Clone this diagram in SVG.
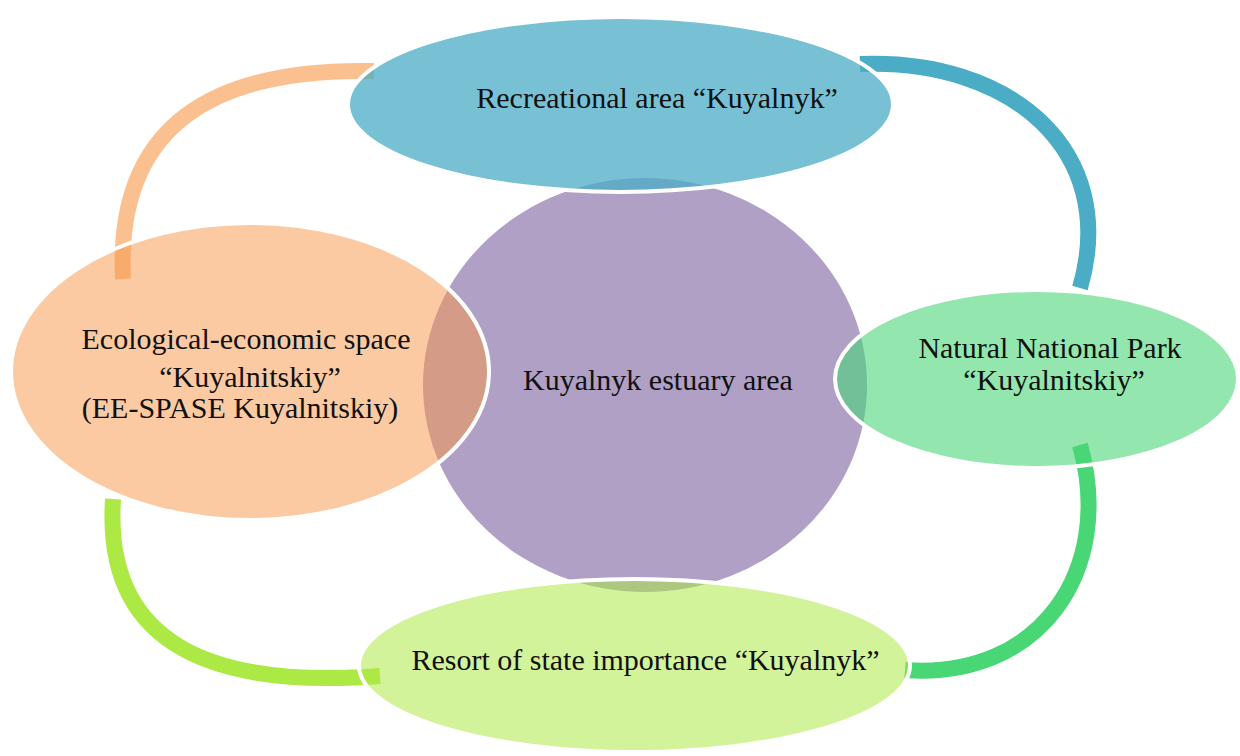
<svg xmlns="http://www.w3.org/2000/svg" width="1240" height="756" viewBox="0 0 1240 756">
<style>
.lbl{font-family:"Liberation Serif","Times New Roman",serif;font-size:30px;fill:#111;text-anchor:middle}
.node{stroke:#fff;stroke-width:4}
.arc{fill:none;stroke-width:16;stroke-linecap:butt}
</style>
<rect width="1240" height="756" fill="#fff"/>
<g id="connectors">
<path class="arc" d="M123,279 C115,120 220,68 374,71" stroke="#F79646" stroke-opacity="0.6"/>
<path class="arc" d="M860,64 C1010,58 1120,150 1080,288" stroke="#4BACC6"/>
<path class="arc" d="M1080,445 C1115,570 1040,680 905,670" stroke="#49D675"/>
<path class="arc" d="M113,499 C103,650 220,688 380,676" stroke="#ACE944"/>
</g>
<g id="center">
<ellipse cx="645" cy="385" rx="222" ry="207" fill="#B0A0C6"/>
<text class="lbl" x="658" y="390">Kuyalnyk estuary area</text>
</g>
<g id="top">
<ellipse class="node" cx="620.5" cy="104.5" rx="272.5" ry="87.5" fill="#4BACC6" fill-opacity="0.75"/>
<text class="lbl" x="657" y="108">Recreational area “Kuyalnyk”</text>
</g>
<g id="left">
<ellipse class="node" cx="250" cy="371.5" rx="239" ry="148.5" fill="#F79646" fill-opacity="0.5"/>
<text class="lbl" x="246" y="349">Ecological-economic space</text>
<text class="lbl" x="250" y="387">“Kuyalnitskiy”</text>
<text class="lbl" x="240" y="418">(EE-SPASE Kuyalnitskiy)</text>
</g>
<g id="right">
<ellipse class="node" cx="1036.5" cy="379" rx="201.5" ry="89" fill="#49D578" fill-opacity="0.6"/>
<text class="lbl" x="1050" y="358">Natural National Park</text>
<text class="lbl" x="1054" y="390">“Kuyalnitskiy”</text>
</g>
<g id="bottom">
<ellipse class="node" cx="634.5" cy="665.5" rx="275.5" ry="86.5" fill="#ACE944" fill-opacity="0.54"/>
<text class="lbl" x="645.5" y="670">Resort of state importance “Kuyalnyk”</text>
</g>
</svg>
